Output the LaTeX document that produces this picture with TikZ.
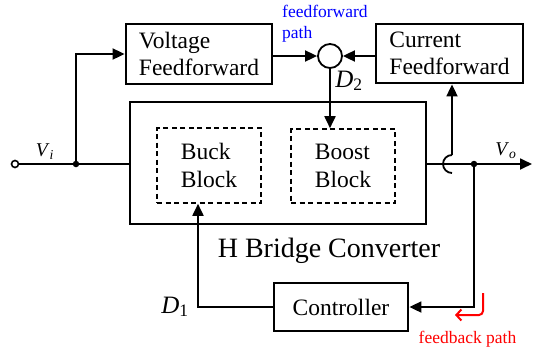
\documentclass[tikz,border=0pt]{standalone}
\usepackage{fontspec}
\setmainfont{Liberation Serif}
\usetikzlibrary{arrows.meta}
\begin{document}
\begin{tikzpicture}[x=1pt,y=-1pt,
  blk/.style={draw,line width=2.8pt,align=left,font=\fontsize{23.5}{26.5}\selectfont,inner sep=0pt},
  dblk/.style={draw,line width=1.6pt,dash pattern=on 5pt off 3.5pt,align=left,font=\fontsize{23.5}{28}\selectfont,inner sep=0pt},
  wire/.style={line width=1.8pt},
  arr/.style={wire,-{Triangle[length=12pt,width=11pt]}},
  dot/.style={circle,fill,inner sep=0pt,minimum size=6.5pt},
  dlbl/.style={font=\fontsize{25}{25}\selectfont,inner sep=0pt,anchor=base},
  vlbl/.style={font=\fontsize{19.5}{19.5}\selectfont,inner sep=0pt,anchor=base},
  note/.style={font=\fontsize{17.5}{20.5}\selectfont,inner sep=0pt},
]
\useasboundingbox (0,0) rectangle (533,346);
% blocks
\node[blk,minimum width=146pt,minimum height=60pt] (vff) at (199,54) {Voltage\\Feedforward};
\node[blk,minimum width=147pt,minimum height=59pt] (cff) at (449.5,53.5) {Current\\Feedforward};
\node[draw,circle,line width=1.8pt,minimum size=24pt,inner sep=0pt] (sum) at (330,56) {};
\node[draw,line width=2.8pt,minimum width=296pt,minimum height=122pt,inner sep=0pt] (big) at (278,163) {};
\node[dblk,minimum width=104pt,minimum height=75pt] (buck) at (209,165.5) {Buck\\Block};
\node[dblk,minimum width=104pt,minimum height=74pt] (boost) at (343,166) {Boost\\Block};
\node[blk,minimum width=134pt,minimum height=48pt] (ctrl) at (341,307) {Controller};
\node[font=\fontsize{28}{28}\selectfont,inner sep=0pt,anchor=base] (hbc) at (329,257) {H Bridge Converter};
% terminals and junctions
\node[draw,circle,fill=white,line width=1.6pt,minimum size=7pt,inner sep=0pt] (vin) at (15,164) {};
\node[dot] (j1) at (76,164) {};
\node[dot] (j2) at (474,164) {};
\coordinate (vout) at (532,164);
\coordinate (jt) at (452,155);
\coordinate (d1c) at (198,307);
% connectors
\draw[wire] (vin) -- (big.west |- vin);
\draw[arr] (j1.center) |- (vff.west);
\draw[arr] (vff.east |- sum) -- (sum.west);
\draw[arr] (cff.west |- sum) -- (sum.east);
\draw[arr] (sum.south) -- (sum.south |- boost.north);
\draw[arr] (big.east |- vin) -- (vout);
\draw[wire] (jt) arc[start angle=270,end angle=90,radius=9];
\draw[arr] (jt) -- (jt |- cff.south);
\draw[arr] (j2.center) |- (ctrl.east);
\draw[arr] (ctrl.west) -- (d1c) -- (d1c |- buck.south);
% labels
\node[vlbl] (vi) at (45,156) {\textit{V}\textsubscript{\textit{i}}};
\node[vlbl] (vo) at (506,155) {\textit{V}\textsubscript{\textit{o}}};
\node[dlbl] (d2) at (349,87) {\textit{D}\textsubscript{2}};
\node[dlbl] (d1) at (175,313) {\textit{D}\textsubscript{1}};
\node[note,blue,align=left,anchor=north west] (ffp) at (282,5) {feedforward\\path};
\node[note,red,anchor=base] (fbp) at (467.5,343) {feedback path};
\coordinate (fb1) at (483,293);
\coordinate (fb2) at (483,315);
\coordinate (fb3) at (455,315);
\draw[red,line width=2pt,rounded corners=4pt,-{Straight Barb[length=5pt,width=11pt]}] (fb1) -- (fb2) -- (fb3);
\end{tikzpicture}
\end{document}
